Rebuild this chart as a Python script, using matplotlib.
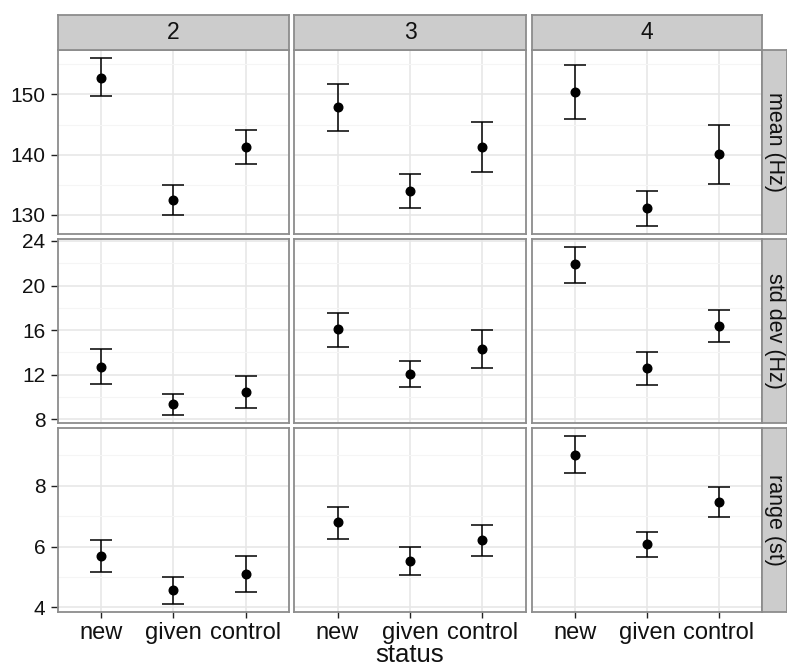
import numpy as np
import matplotlib
matplotlib.use('Agg')
import matplotlib.pyplot as plt

plt.rcParams['font.family'] = ['Liberation Sans', 'DejaVu Sans']

# categories
statuses = ['new', 'given', 'control']
groups = ['2', '3', '4']
measures = ['mean (Hz)', 'std dev (Hz)', 'range (st)']

# values per group (rows = group 2, 3, 4; columns = new, given, control)
mean_mid = [[152.8, 132.5, 141.2], [147.9, 134.0, 141.2], [150.4, 131.2, 140.1]]
mean_lo = [[149.8, 129.9, 138.5], [143.9, 131.2, 137.1], [145.9, 128.2, 135.2]]
mean_hi = [[156.0, 135.0, 144.1], [151.7, 136.7, 145.4], [154.9, 134.0, 145.0]]

sd_mid = [[12.7, 9.33, 10.44], [16.1, 12.1, 14.35], [21.9, 12.6, 16.4]]
sd_lo = [[11.16, 8.42, 9.03], [14.53, 10.86, 12.63], [20.24, 11.07, 14.97]]
sd_hi = [[14.28, 10.26, 11.88], [17.56, 13.24, 16.0], [23.42, 14.07, 17.83]]

range_mid = [[5.69, 4.56, 5.09], [6.80, 5.52, 6.20], [9.02, 6.08, 7.48]]
range_lo = [[5.17, 4.12, 4.50], [6.26, 5.06, 5.70], [8.42, 5.67, 6.98]]
range_hi = [[6.23, 4.99, 5.69], [7.29, 5.97, 6.72], [9.63, 6.49, 7.97]]

data = [(mean_mid, mean_lo, mean_hi), (sd_mid, sd_lo, sd_hi), (range_mid, range_lo, range_hi)]

major_ticks = [[130, 140, 150], [8, 12, 16, 20, 24], [4, 6, 8]]
minor_ticks = [[135, 145, 155], [10, 14, 18, 22], [5, 7, 9]]

W, H = 787, 668
fig = plt.figure(figsize=(W / 100, H / 100), dpi=100)


def box(x0, y0, x1, y1):
    return [x0 / W, 1 - y1 / H, (x1 - x0) / W, (y1 - y0) / H]


cols_px = [(58, 289), (294, 526), (532, 762)]
rows_px = [(50, 234), (239, 423), (428, 612)]
border = '#8c8c8c'
txt = '#111111'

x = np.arange(1, len(statuses) + 1)

for r, (mid, lo, hi) in enumerate(data):
    allv = np.array(lo + hi)
    span = allv.max() - allv.min()
    ylim = (allv.min() - 0.05 * span, allv.max() + 0.05 * span)
    for c in range(len(groups)):
        ax = fig.add_axes(box(cols_px[c][0], rows_px[r][0], cols_px[c][1], rows_px[r][1]))
        m = np.array(mid[c])
        l = np.array(lo[c])
        h = np.array(hi[c])
        ax.errorbar(x, m, yerr=[m - l, h - m], fmt='o', color='black', ms=6.2,
                    elinewidth=1.1, capsize=7.7, capthick=1.1, zorder=3)
        ax.set_xlim(0.4, 3.6)
        ax.set_ylim(*ylim)
        ax.set_xticks(x)
        ax.set_yticks(major_ticks[r])
        ax.set_yticks(minor_ticks[r], minor=True)
        ax.grid(which='major', color='#e6e6e6', lw=1.1, zorder=0)
        ax.grid(which='minor', axis='y', color='#f5f5f5', lw=0.8, zorder=0)
        ax.set_axisbelow(True)
        for s in ax.spines.values():
            s.set_color(border)
            s.set_linewidth(1.3)
        ax.tick_params(which='minor', length=0)
        ax.tick_params(which='major', color='#222222', width=1.0)
        if c == 0:
            ax.tick_params(axis='y', length=5, pad=4, labelsize=15, labelcolor=txt)
        else:
            ax.tick_params(axis='y', length=0, labelleft=False)
        if r == len(measures) - 1:
            ax.set_xticklabels(statuses)
            ax.tick_params(axis='x', length=4.5, pad=3, labelsize=17, labelcolor=txt)
        else:
            ax.tick_params(axis='x', length=0, labelbottom=False)

# top strips
for c, g in enumerate(groups):
    sax = fig.add_axes(box(cols_px[c][0], 15, cols_px[c][1], rows_px[0][0]))
    sax.set_facecolor('#cccccc')
    sax.set_xticks([])
    sax.set_yticks([])
    for s in sax.spines.values():
        s.set_color(border)
        s.set_linewidth(1.3)
    sax.text(0.5, 0.5, g, ha='center', va='center', fontsize=16.5, color=txt,
             transform=sax.transAxes)

# right strips
for r, lab in enumerate(measures):
    sax = fig.add_axes(box(cols_px[-1][1], rows_px[r][0], 787, rows_px[r][1]))
    sax.set_facecolor('#cccccc')
    sax.set_xticks([])
    sax.set_yticks([])
    for s in sax.spines.values():
        s.set_color(border)
        s.set_linewidth(1.3)
    sax.text(0.5, 0.5, lab, ha='center', va='center', fontsize=15.5, color=txt,
             rotation=-90, transform=sax.transAxes)

fig.text((cols_px[0][0] + cols_px[-1][1]) / 2 / W, 1 - 662 / H, 'status',
         ha='center', va='baseline', fontsize=18.5, color=txt)

fig.savefig('out.png', dpi=100, facecolor='white')
